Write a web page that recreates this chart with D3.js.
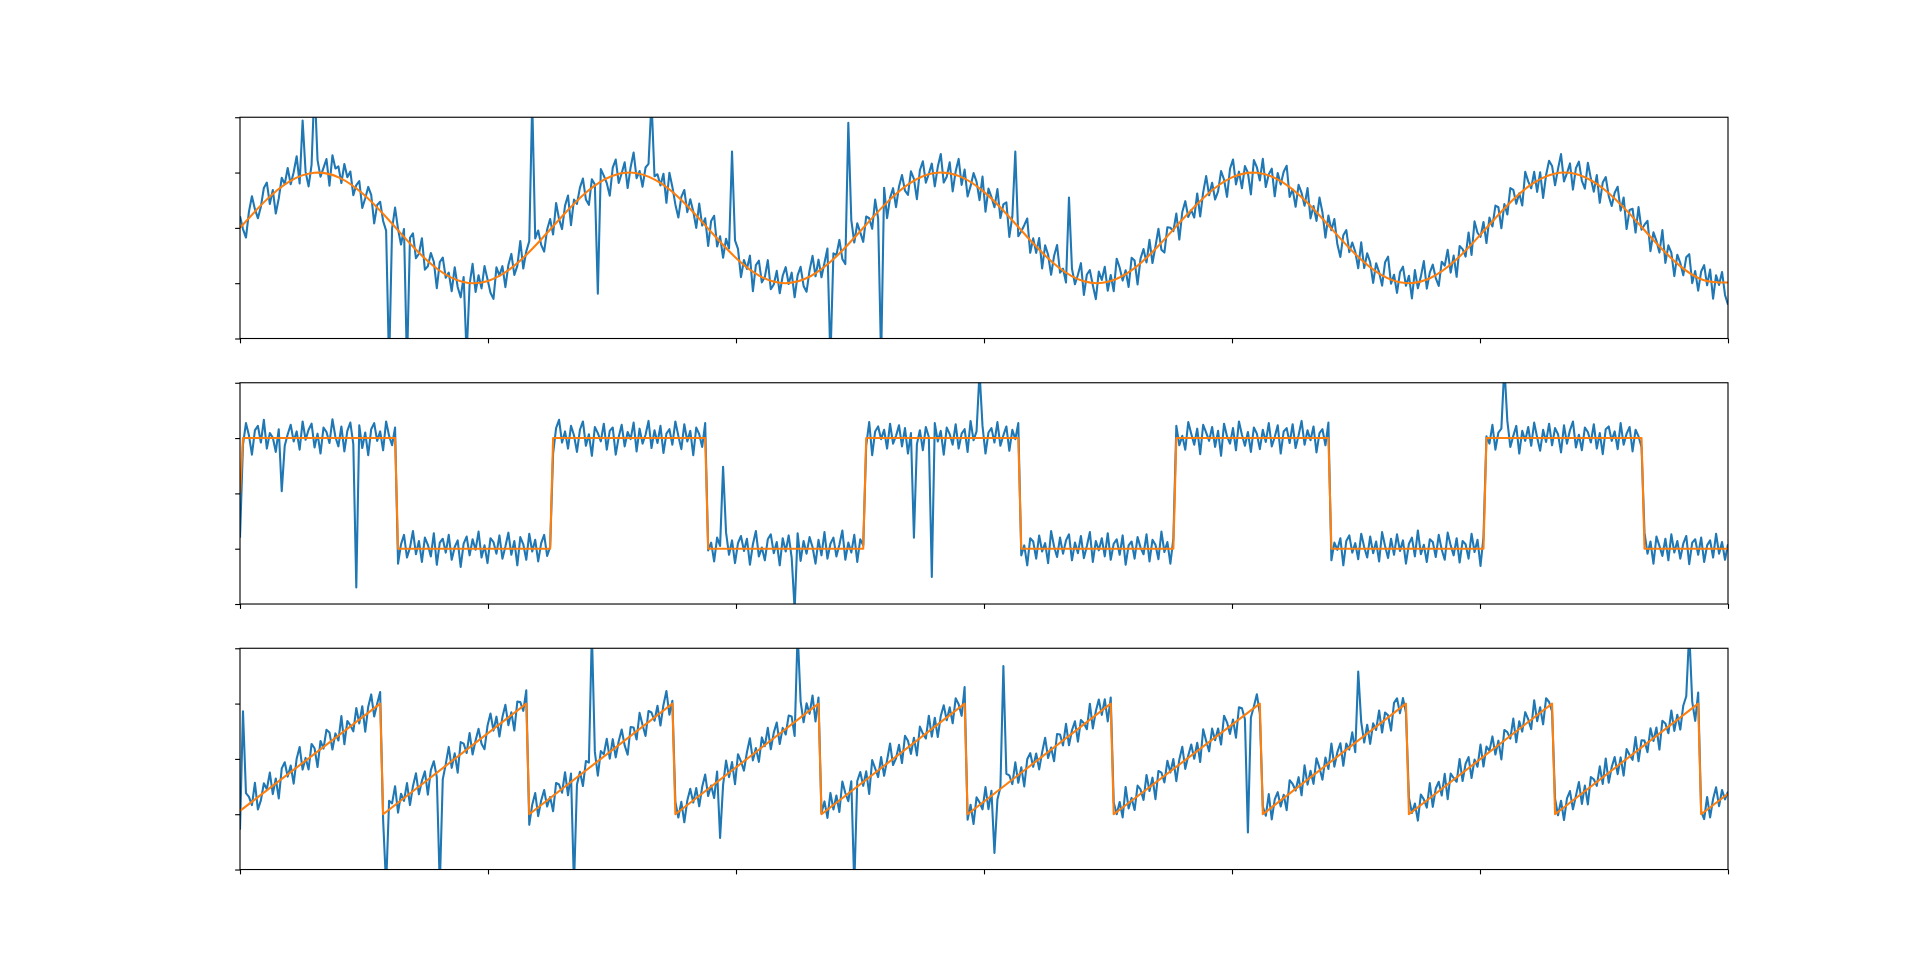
<!DOCTYPE html>
<html><head><meta charset="utf-8">
<script src="https://cdn.jsdelivr.net/npm/d3@7"></script>
<style>html,body{margin:0;padding:0;background:#fff;overflow:hidden}svg{display:block}</style>
</head><body>
<svg id="chart" width="1920" height="977"></svg>
<script>
// ---------------- data ----------------
const N = 500;            // samples per series
const T_MAX = 3;          // x runs 0..3
const xTicks = [0, 0.5, 1, 1.5, 2, 2.5, 3];
const yTicks = [-2, -1, 0, 1, 2];
const xTickLabels = ["", "", "", "", "", "", ""];
const yTickLabels = ["", "", "", "", ""];

// clean sine (orange), read every 0.05 on x
const sineCurveStep = 0.05;
const sineCurve = [0, 0.479, 0.841, 0.997, 0.909, 0.598, 0.141, -0.351, -0.757, -0.978,
 -0.959, -0.706, -0.279, 0.215, 0.657, 0.938, 0.989, 0.798, 0.412, -0.075,
 -0.544, -0.880, -1.000, -0.875, -0.537, -0.066, 0.420, 0.803, 0.991, 0.935,
 0.650, 0.207, -0.288, -0.712, -0.961, -0.976, -0.751, -0.342, 0.150, 0.605,
 0.913, 0.996, 0.837, 0.472, -0.009, -0.487, -0.846, -0.998, -0.906, -0.591,
 -0.132, 0.360, 0.763, 0.980, 0.956, 0.699, 0.271, -0.224, -0.664, -0.941, -0.988];

// clean square (orange)
const squareStart = 0;
const squareEdges = [0.314, 0.628, 0.942, 1.257, 1.571, 1.885, 2.199, 2.513, 2.827];
const squareLevels = [1, -1, 1, -1, 1, -1, 1, -1, 1, -1];

// clean sawtooth (orange)
const sawStart = -0.94;
const sawEnd = -0.63;
const sawDrops = [0.2857, 0.5809, 0.8760, 1.1712, 1.4664, 1.7615, 2.0567, 2.3519, 2.6470, 2.9422];

// noisy (blue) = clean + deviation, except the outlier samples [index, value]
const sineNoise = [
0.21,-0.08,-0.29,0.12,0.34,0.05,-0.17,-0.02,0.26,0.31,-0.12,0.09,-0.38,-0.15,0.18,0.02,0.27,-0.06,0.14,0.41,
-0.1,0.23,0.07,-0.21,0.16,0.33,0.24,-0.05,0.12,0.29,-0.18,0.38,0.15,0.2,-0.07,0.31,0.11,0.25,-0.14,0.08,
0.19,-0.26,-0.04,0.22,0.13,-0.33,0.06,0.17,-0.12,-0.24,0.28,-0.09,0.35,0.02,-0.2,0.14,-0.31,0.1,0.24,-0.16,
-0.03,0.3,-0.22,-0.11,0.18,0.07,-0.36,0.15,0.26,-0.08,0.04,-0.27,0.19,-0.14,-0.3,0.09,0.21,-0.05,0.32,-0.19,
0.11,-0.13,0.27,0.03,-0.24,-0.38,0.16,-0.02,0.12,-0.29,0.08,0.25,-0.17,-0.06,0.34,-0.21,0.05,0.18,-0.35,0.13,
0.22,-0.1,-0.28,0.06,0.19,-0.15,0.36,0.01,-0.23,0.14,0.27,-0.32,0.09,-0.04,0.2,0.31,-0.12,-0.26,0.17,0.04,
-0.19,0.25,0.1,-0.07,-0.33,0.15,0.29,-0.14,0.03,0.22,-0.25,0.12,0.38,-0.09,0.06,-0.2,0.17,0.26,-0.3,0.08,
0.14,-0.04,0.21,-0.27,0.32,0.11,-0.16,-0.35,0.07,0.24,-0.11,0.18,0.02,-0.22,0.28,-0.06,0.13,-0.31,0.2,0.35,
-0.15,0.09,-0.24,0.16,0.04,-0.12,0.3,0.19,-0.28,0.07,-0.05,0.23,-0.37,0.14,0.26,-0.1,0.01,0.33,-0.18,-0.08,
0.18,-0.21,0.12,0.29,-0.03,0.16,-0.3,0.08,0.22,-0.14,-0.26,0.11,0.34,-0.07,0.19,-0.17,0.05,0.27,-0.23,0.1,
0.02,0.24,-0.16,-0.31,0.13,0.37,-0.09,0.2,-0.02,-0.25,0.15,0.06,-0.19,0.28,-0.12,0.09,0.32,-0.28,0.04,0.17,
-0.22,0.11,0.27,-0.06,-0.18,0.21,0.05,-0.34,0.16,0.3,-0.11,0.03,0.19,-0.24,0.12,0.36,-0.15,-0.04,0.23,-0.29,
0.08,0.31,-0.13,0.18,-0.27,-0.05,0.22,0.1,-0.2,0.26,-0.33,0.14,0.04,-0.09,0.29,-0.18,0.12,0.21,-0.36,0.07,
0.25,-0.17,-0.02,0.15,0.33,-0.23,0.09,-0.12,0.2,-0.3,0.17,0.05,-0.26,0.13,0.38,-0.08,0.02,-0.2,0.24,0.11,
-0.14,0.06,0.3,-0.25,0.12,0.2,-0.07,-0.32,0.18,0.03,0.27,-0.16,0.1,-0.22,0.34,0.15,-0.11,0.05,-0.28,0.22,
0.13,-0.35,0.07,0.19,-0.1,0.26,-0.21,0.04,0.31,-0.13,-0.24,0.16,0.09,-0.03,0.23,-0.3,0.14,0.28,-0.06,0.01,
-0.18,0.2,-0.27,0.11,0.35,-0.04,0.15,-0.19,-0.08,0.25,0.06,-0.29,0.18,0.32,-0.14,0.08,-0.23,0.16,0.03,-0.37,
0.24,0.1,-0.12,0.29,-0.2,0.05,0.17,-0.31,0.13,-0.06,0.21,0.36,-0.16,0.02,-0.25,0.19,0.09,-0.1,0.27,-0.22,
0.06,-0.15,0.33,0.12,-0.28,0.18,-0.03,0.23,-0.17,-0.34,0.11,0.26,-0.08,0.15,0.04,-0.21,0.3,-0.12,0.19,0.07,
-0.26,0.14,0.02,-0.19,0.25,0.37,-0.1,0.08,-0.23,0.16,0.28,-0.05,0.12,-0.3,0.2,-0.14,0.06,0.33,-0.18,0.1,
0.21,-0.07,-0.25,0.15,0.04,0.29,-0.16,0.11,-0.32,0.18,0.07,-0.12,0.26,-0.2,0.35,0.09,-0.04,0.17,-0.27,0.13,
-0.09,0.23,0.14,-0.3,0.08,-0.16,0.27,0.19,-0.11,0.03,-0.24,0.32,0.1,-0.06,0.21,-0.18,0.15,-0.34,0.05,0.28,
0.16,-0.21,0.09,0.36,-0.13,0.02,0.2,-0.27,0.12,0.24,-0.08,-0.19,0.31,0.06,-0.15,0.18,-0.29,0.11,0.25,-0.04,
-0.17,0.12,0.28,-0.1,0.19,-0.33,0.07,0.15,-0.22,0.3,-0.05,0.1,0.23,-0.26,0.14,0.04,-0.12,0.34,-0.2,0.17,
0.09,-0.28,0.16,0.05,-0.14,0.22,0.31,-0.18,0.07,-0.25,0.13,0.27,-0.09,0.2,-0.32,0.11,-0.06,0.18,-0.23,-0.4];
const sineOutliers = [[21,1.94],[25,2.6],[50,-2.5],[56,-2.5],[76,-2.3],[98,2.3],[120,-1.19],[138,2.3],
 [165,1.38],[198,-2.4],[204,1.9],[215,-2.4],[260,1.38],[278,0.55]];

const squareNoise = [
0.18,-0.12,0.27,0.05,-0.3,0.14,0.22,-0.08,0.33,-0.19,0.09,0.01,-0.25,0.16,0.29,-0.14,0.07,0.24,-0.06,0.12,
-0.21,0.3,-0.03,0.15,0.26,-0.17,0.08,-0.28,0.19,0.11,-0.09,0.34,0.02,-0.15,0.21,-0.24,0.13,0.28,-0.11,0.06,
0.23,-0.18,0.1,-0.31,0.16,0.27,-0.05,0.12,-0.22,0.3,0.04,-0.13,0.19,-0.27,0.08,0.25,-0.16,0.02,0.32,-0.1,
0.14,-0.24,0.2,0.07,-0.14,0.28,-0.29,0.11,0.18,-0.07,0.25,-0.2,0.03,0.15,-0.33,0.09,0.22,-0.12,0.17,-0.02,
0.31,-0.16,0.06,-0.26,0.19,0.12,-0.09,0.24,-0.18,0.04,0.29,-0.11,0.14,-0.3,0.21,0.08,-0.2,0.27,-0.05,0.16,
-0.23,0.1,0.25,-0.13,0.03,-0.28,0.18,0.33,-0.08,0.12,-0.19,0.22,0.05,-0.25,0.15,0.3,-0.14,0.07,-0.32,0.2,
0.09,-0.06,0.26,-0.21,0.13,0.19,-0.3,0.02,0.24,-0.15,0.11,-0.02,0.28,-0.24,0.17,-0.1,0.06,0.31,-0.18,0.14,
-0.09,0.22,-0.27,0.08,0.16,-0.12,0.3,0.04,-0.2,0.25,-0.06,0.13,-0.31,0.19,0.07,-0.16,0.27,-0.03,0.11,-0.23,
0.2,0.05,-0.17,0.29,-0.11,0.15,-0.26,0.1,0.23,-0.04,0.18,-0.29,0.08,0.32,-0.14,0.02,-0.21,0.17,0.26,-0.08,
0.12,-0.3,0.19,-0.05,0.24,-0.16,0.07,0.28,-0.22,0.14,-0.09,0.21,0.03,-0.27,0.16,-0.12,0.3,-0.18,0.09,0.2,
-0.14,0.07,0.33,-0.2,0.11,-0.07,0.25,-0.24,0.17,0.06,-0.13,0.29,-0.31,0.12,0.21,-0.02,0.15,-0.19,0.26,-0.1,
0.04,0.23,-0.15,0.18,-0.28,0.09,0.3,-0.11,0.14,-0.22,0.2,0.02,-0.17,0.27,-0.06,0.13,-0.3,0.19,0.07,-0.12,
0.25,-0.19,0.08,0.16,-0.25,0.31,-0.04,0.12,-0.16,0.22,-0.28,0.1,0.18,-0.08,0.29,-0.14,0.05,0.21,-0.23,0.15,
-0.02,0.27,-0.12,0.06,-0.3,0.19,0.13,-0.18,0.24,-0.05,0.1,-0.26,0.32,0.04,-0.15,0.2,-0.09,0.15,0.26,-0.21,
0.11,-0.08,0.23,-0.17,0.05,0.3,-0.24,0.14,-0.03,0.19,-0.14,0.28,-0.2,0.09,0.17,-0.11,0.24,-0.29,0.06,0.13,
-0.18,0.21,0.02,-0.1,0.26,-0.23,0.16,0.07,-0.19,0.31,-0.06,0.12,-0.27,0.18,0.22,-0.13,0.04,-0.21,0.29,0.08,
-0.12,0.17,-0.29,0.24,0.1,-0.05,0.2,-0.16,0.13,-0.32,0.26,0.03,-0.1,0.18,-0.22,0.3,0.06,-0.14,0.11,-0.25,
0.19,0.08,-0.2,0.15,-0.07,0.27,-0.15,0.02,0.23,-0.28,0.12,0.18,-0.09,0.25,-0.18,0.05,0.31,-0.12,0.14,-0.04,
0.21,-0.26,0.09,0.16,-0.13,0.28,-0.21,0.11,-0.02,0.19,-0.3,0.14,0.24,-0.07,0.1,-0.19,0.27,0.03,-0.16,0.22,
-0.08,0.13,-0.23,0.3,0.05,-0.17,0.18,-0.11,0.26,-0.04,0.15,-0.27,0.09,0.2,-0.14,0.33,-0.1,0.07,-0.24,0.17,
0.12,-0.15,0.25,-0.02,-0.2,0.29,0.06,-0.12,0.19,-0.25,0.14,0.08,-0.18,0.27,-0.06,0.16,-0.31,0.21,0.03,-0.1,
0.24,-0.21,0.1,0.17,-0.09,0.31,-0.16,0.04,0.22,-0.28,0.13,-0.05,0.2,-0.14,0.28,0.01,-0.23,0.15,-0.07,0.26,
-0.13,0.18,0.07,-0.26,0.23,-0.1,0.14,0.3,-0.17,0.06,-0.22,0.19,0.11,-0.08,0.25,-0.19,0.09,-0.29,0.16,0.21,
-0.05,0.12,-0.2,0.27,-0.12,0.08,0.2,-0.24,0.15,0.03,-0.16,0.29,-0.09,0.13,-0.27,0.22,0.05,-0.13,0.18,-0.21,
0.26,-0.07,0.14,-0.18,0.09,0.23,-0.28,0.11,0.17,-0.11,0.2,-0.24,0.06,0.15,-0.16,0.27,-0.09,0.12,-0.2,0.08];
const squareOutliers = [[0,-0.8],[14,0.04],[39,-1.7],[162,0.48],[186,-2.1],[226,-0.8],[232,-1.51],[248,2.2],[424,2.3]];

const sawNoise = [
0.07,-0.19,0.24,0.13,-0.06,0.3,-0.22,-0.1,0.17,0.02,0.28,-0.15,0.09,-0.31,0.19,0.26,-0.04,0.12,-0.25,0.16,
0.33,-0.12,0.05,-0.2,0.22,0.1,-0.28,0.15,-0.03,0.27,0.18,-0.17,0.08,-0.09,0.31,-0.24,0.14,0.02,-0.13,0.25,
-0.07,0.2,-0.3,0.11,0.29,-0.15,0.04,0.21,-0.11,-0.26,0.16,0.07,0.34,-0.18,0.12,-0.05,0.23,-0.21,0.09,0.28,
-0.14,0.06,0.19,-0.27,0.13,0.25,-0.08,0.17,-0.2,0.03,0.3,-0.12,0.1,-0.29,0.22,0.15,-0.06,0.26,-0.17,0.04,
0.21,-0.1,-0.24,0.14,0.32,-0.03,0.18,-0.22,0.09,0.27,-0.14,0.05,-0.32,0.16,0.11,-0.09,0.24,-0.19,0.13,0.3,
-0.16,0.08,0.23,-0.11,0.02,-0.28,0.19,0.12,-0.07,0.26,-0.2,0.15,0.33,-0.13,0.06,-0.24,0.17,0.1,-0.05,0.21,
-0.26,0.14,0.04,0.28,-0.12,0.19,-0.18,0.07,0.24,-0.09,-0.3,0.16,0.11,-0.15,0.29,0.03,-0.21,0.2,0.13,-0.06,
0.17,-0.23,0.1,0.31,-0.16,0.05,0.22,-0.1,0.14,-0.27,0.08,0.25,-0.04,0.18,-0.19,0.12,0.3,-0.13,0.02,-0.25,
0.19,0.09,-0.14,0.26,-0.08,0.15,-0.29,0.21,0.04,-0.17,0.12,0.33,-0.11,0.07,-0.22,0.18,-0.02,0.27,-0.16,0.1,
0.24,-0.19,0.06,-0.1,0.2,0.14,-0.25,0.09,0.29,-0.13,0.17,-0.06,0.23,-0.28,0.11,0.02,0.19,-0.15,0.26,-0.08,
0.13,-0.21,0.3,0.05,-0.14,0.18,-0.24,0.1,0.22,-0.07,0.15,-0.3,0.27,0.08,-0.12,0.2,-0.18,0.06,0.32,-0.11,
-0.03,0.17,-0.2,0.25,0.12,-0.16,0.09,-0.27,0.21,0.04,-0.09,0.28,-0.14,0.16,-0.23,0.11,0.26,-0.05,0.14,-0.19,
0.22,0.07,-0.18,0.3,-0.1,0.13,-0.26,0.18,0.05,-0.12,0.24,-0.2,0.09,0.31,-0.15,0.03,-0.22,0.19,0.12,-0.08,
0.27,-0.14,0.1,-0.29,0.16,0.23,-0.06,0.14,-0.19,0.08,0.3,-0.11,0.04,-0.25,0.2,0.15,-0.09,0.26,-0.17,0.06,
0.18,-0.23,0.12,0.02,-0.13,0.29,-0.2,0.07,0.24,-0.08,0.16,-0.28,0.11,0.21,-0.04,0.14,-0.18,0.33,-0.1,0.05,
-0.21,0.19,0.08,-0.15,0.26,-0.07,0.13,-0.3,0.17,0.1,-0.12,0.23,-0.02,0.18,-0.26,0.09,0.28,-0.16,0.04,0.2,
-0.1,0.15,-0.24,0.31,0.06,-0.17,0.2,-0.05,0.12,-0.21,0.27,0.11,-0.14,0.08,-0.29,0.22,0.16,-0.08,0.25,-0.13,
0.03,0.21,-0.18,0.14,-0.07,0.28,-0.22,0.1,0.19,-0.11,0.06,-0.26,0.24,0.13,-0.03,0.17,-0.2,0.3,-0.09,0.12,
-0.16,0.26,0.05,-0.21,0.15,-0.1,0.32,-0.14,0.08,0.2,-0.25,0.11,-0.04,0.23,-0.17,0.07,0.29,-0.12,0.16,-0.23,
0.1,-0.06,0.25,-0.19,0.13,0.04,-0.28,0.18,0.22,-0.09,0.14,-0.16,0.3,-0.02,0.11,-0.24,0.19,0.06,-0.13,0.27,
-0.2,0.09,0.17,-0.12,0.23,-0.27,0.15,0.03,-0.08,0.29,-0.15,0.12,0.2,-0.22,0.07,-0.1,0.26,-0.18,0.14,0.02,
0.24,-0.13,0.08,-0.3,0.19,0.11,-0.05,0.27,-0.2,0.14,-0.09,0.22,0.05,-0.17,0.31,-0.11,0.1,-0.25,0.18,0.07,
-0.14,0.28,-0.06,0.16,-0.23,0.12,0.21,-0.16,0.04,0.25,-0.19,0.1,-0.28,0.17,0.09,-0.07,0.24,-0.12,0.3,-0.18,
0.06,0.2,-0.15,0.11,-0.26,0.18,0.03,-0.1,0.27,-0.21,0.13,0.08,-0.17,0.22,-0.05,0.15,-0.29,0.19,0.1,-0.12,
0.25,-0.16,0.09,-0.22,0.17,0.3,-0.08,0.12,-0.27,0.2,0.05,-0.13,0.23,-0.18,0.11,0.28,-0.1,0.15,-0.06,0.04];
const sawOutliers = [[0,-1.28],[1,0.86],[49,-2.3],[67,-2.3],[112,-2.3],[118,2.3],[161,-1.43],
 [187,2.3],[206,-2.3],[253,-1.7],[256,1.68],[338,-1.33],[375,1.58],[486,2.3]];

// ---------------- layout (matplotlib defaults) ----------------
const W = 1920, H = 977;
const subLeft = 0.125, subRight = 0.9, subTop = 0.88, subBottom = 0.11, hspace = 0.2, nRows = 3;
const BLUE = "#1f77b4", ORANGE = "#ff7f0e";
const lineW = 1.5 * 100 / 72, spineW = 0.8 * 100 / 72, tickLen = 3.5 * 100 / 72;

const axL = subLeft * W, axR = subRight * W;
const totalH = (subTop - subBottom) * H;
const axH = totalH / (nRows + (nRows - 1) * hspace);
const gap = axH * hspace;
const axTop0 = (1 - subTop) * H;

const sampleTimes = d3.range(N).map(i => i * T_MAX / (N - 1));

// orange vertex lists
const sineVerts = sineCurve.map((v, k) => [k * sineCurveStep, v]);

const squareVerts = [[sampleTimes[0], squareStart], [sampleTimes[1], squareLevels[0]]];
squareEdges.forEach((e, k) => {
  const kb = Math.floor(e / T_MAX * (N - 1));
  squareVerts.push([sampleTimes[kb], squareLevels[k]]);
  squareVerts.push([sampleTimes[kb + 1], squareLevels[k + 1]]);
});
squareVerts.push([T_MAX, squareLevels[squareLevels.length - 1]]);

const sawVerts = [[0, sawStart]];
sawDrops.forEach(d => {
  const kb = Math.floor(d / T_MAX * (N - 1));
  sawVerts.push([sampleTimes[kb], 1]);
  sawVerts.push([sampleTimes[kb + 1], -1]);
});
sawVerts.push([T_MAX, sawEnd]);

function interp(verts, t) {
  const ts = verts.map(v => v[0]);
  let j = d3.bisectRight(ts, t) - 1;
  j = Math.max(0, Math.min(verts.length - 2, j));
  const [t0, v0] = verts[j], [t1, v1] = verts[j + 1];
  if (t1 === t0) return v1;
  return v0 + (v1 - v0) * (t - t0) / (t1 - t0);
}
function noisy(verts, noise, outliers) {
  const vals = sampleTimes.map((t, i) => interp(verts, t) + noise[i]);
  outliers.forEach(([i, v]) => { vals[i] = v; });
  return sampleTimes.map((t, i) => [t, vals[i]]);
}

const panels = [
  { clean: sineVerts, noisy: noisy(sineVerts, sineNoise, sineOutliers), curve: d3.curveNatural },
  { clean: squareVerts, noisy: noisy(squareVerts, squareNoise, squareOutliers), curve: d3.curveLinear },
  { clean: sawVerts, noisy: noisy(sawVerts, sawNoise, sawOutliers), curve: d3.curveLinear }
];

// ---------------- draw ----------------
const svg = d3.select("#chart");
svg.append("rect").attr("width", W).attr("height", H).attr("fill", "#fff");
const x = d3.scaleLinear().domain([0, T_MAX]).range([axL, axR]);

panels.forEach((p, r) => {
  const top = axTop0 + r * (axH + gap), bottom = top + axH;
  const y = d3.scaleLinear().domain([-2, 2]).range([bottom, top]);
  const clipId = "clip" + r;
  svg.append("clipPath").attr("id", clipId).append("rect")
    .attr("x", axL).attr("y", top).attr("width", axR - axL).attr("height", axH);
  const g = svg.append("g");
  g.append("path").datum(p.noisy).attr("clip-path", `url(#${clipId})`)
    .attr("d", d3.line().x(d => x(d[0])).y(d => y(d[1]))).attr("fill", "none").attr("stroke", BLUE)
    .attr("stroke-width", lineW).attr("stroke-linejoin", "round");
  g.append("path").datum(p.clean).attr("clip-path", `url(#${clipId})`)
    .attr("d", d3.line().x(d => x(d[0])).y(d => y(d[1])).curve(p.curve)).attr("fill", "none").attr("stroke", ORANGE)
    .attr("stroke-width", lineW).attr("stroke-linejoin", "round");

  // ticks (no labels, as in the reference)
  const xAxis = d3.axisBottom(x).tickValues(xTicks).tickSize(tickLen).tickSizeOuter(0)
    .tickFormat((d, i) => xTickLabels[i]);
  const yAxis = d3.axisLeft(y).tickValues(yTicks).tickSize(tickLen).tickSizeOuter(0)
    .tickFormat((d, i) => yTickLabels[i]);
  const gx = svg.append("g").attr("transform", `translate(0,${bottom})`).call(xAxis);
  const gy = svg.append("g").attr("transform", `translate(${axL},0)`).call(yAxis);
  [gx, gy].forEach(a => {
    a.select(".domain").remove();
    a.selectAll(".tick line").attr("stroke", "#000").attr("stroke-width", spineW);
    a.selectAll(".tick text").attr("font-family", "DejaVu Sans").attr("font-size", 13.9).attr("fill", "#000");
  });
  // spines
  svg.append("rect").attr("x", axL).attr("y", top).attr("width", axR - axL).attr("height", axH)
    .attr("fill", "none").attr("stroke", "#000").attr("stroke-width", spineW);
});
</script>
</body></html>
